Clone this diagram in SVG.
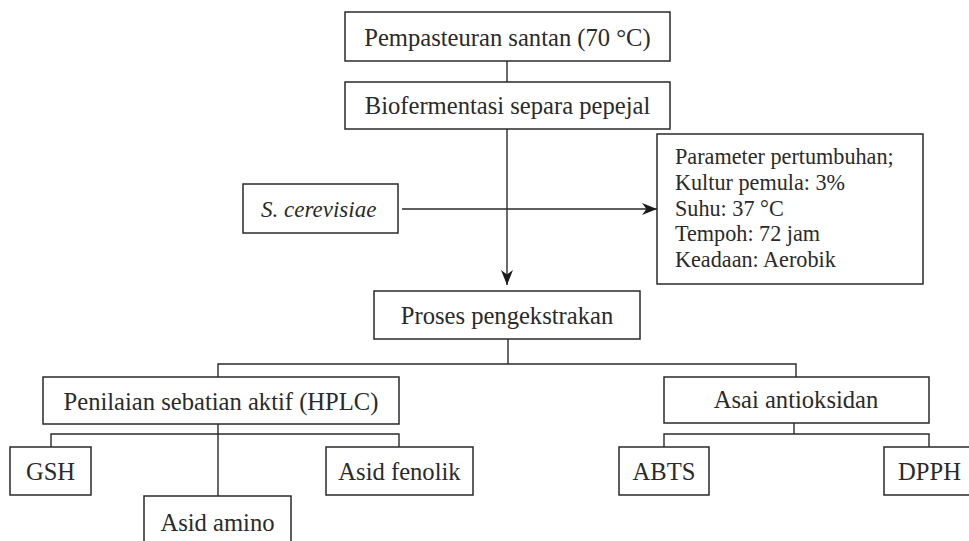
<svg xmlns="http://www.w3.org/2000/svg" width="969" height="541" viewBox="0 0 969 541">
<defs>
<style>
.box{fill:#fff;stroke:#2a2a2a;stroke-width:1.5}
.t{font-family:"Liberation Serif","Times New Roman",serif;font-size:24.6px;fill:#2a2a2a;text-anchor:middle}
.p{font-family:"Liberation Serif","Times New Roman",serif;font-size:22.2px;fill:#2a2a2a}
.c{fill:none;stroke:#2a2a2a;stroke-width:1.4}
</style>
<marker id="arr" markerWidth="16" markerHeight="14" refX="15" refY="7" orient="auto" markerUnits="userSpaceOnUse">
<path d="M15,7 L0,1 L4.5,7 L0,13 Z" fill="#1a1a1a"/>
</marker>
</defs>
<rect width="969" height="541" fill="#fff"/>
<g id="connectors">
<line class="c" x1="507" y1="61" x2="507" y2="82"/>
<line class="c" x1="507" y1="129" x2="507" y2="285" marker-end="url(#arr)"/>
<line class="c" x1="402" y1="209" x2="657" y2="209" marker-end="url(#arr)"/>
<polyline class="c" points="508,339 508,364"/>
<polyline class="c" points="218,377 218,364 796,364 796,377"/>
<line class="c" x1="218" y1="424" x2="218" y2="496"/>
<polyline class="c" points="51,447 51,434 399,434 399,447"/>
<line class="c" x1="794" y1="423" x2="794" y2="434"/>
<polyline class="c" points="664,447 664,434 929,434 929,447"/>
</g>
<g id="n1"><rect class="box" x="345" y="12" width="325" height="49"/><text class="t" x="507.5" y="46">Pempasteuran santan (70 °C)</text></g>
<g id="n2"><rect class="box" x="345" y="82" width="325" height="47"/><text class="t" x="507.5" y="114">Biofermentasi separa pepejal</text></g>
<g id="n3"><rect class="box" x="243" y="184" width="155" height="49"/><text class="t" x="261" y="217" style="text-anchor:start;font-style:italic;font-size:23px">S. cerevisiae</text></g>
<g id="n4"><rect class="box" x="657" y="134" width="266" height="150"/>
<text class="p" x="675" y="164">Parameter pertumbuhan;</text>
<text class="p" x="675" y="190">Kultur pemula: 3%</text>
<text class="p" x="675" y="216">Suhu: 37 °C</text>
<text class="p" x="675" y="241">Tempoh: 72 jam</text>
<text class="p" x="675" y="267">Keadaan: Aerobik</text>
</g>
<g id="n5"><rect class="box" x="374" y="291" width="266" height="48"/><text class="t" x="507" y="324">Proses pengekstrakan</text></g>
<g id="n6"><rect class="box" x="43" y="377" width="356" height="47"/><text class="t" x="221" y="410">Penilaian sebatian aktif (HPLC)</text></g>
<g id="n7"><rect class="box" x="664" y="377" width="265" height="46"/><text class="t" x="796" y="408">Asai antioksidan</text></g>
<g id="n8"><rect class="box" x="10" y="447" width="81" height="48"/><text class="t" x="50.5" y="480">GSH</text></g>
<g id="n9"><rect class="box" x="144" y="496" width="147" height="60"/><text class="t" x="217.5" y="531">Asid amino</text></g>
<g id="n10"><rect class="box" x="326" y="447" width="147" height="48"/><text class="t" x="399.5" y="480">Asid fenolik</text></g>
<g id="n11"><rect class="box" x="619" y="447" width="90" height="48"/><text class="t" x="664" y="480">ABTS</text></g>
<g id="n12"><rect class="box" x="884" y="447" width="91" height="48"/><text class="t" x="929.5" y="480">DPPH</text></g>
</svg>
